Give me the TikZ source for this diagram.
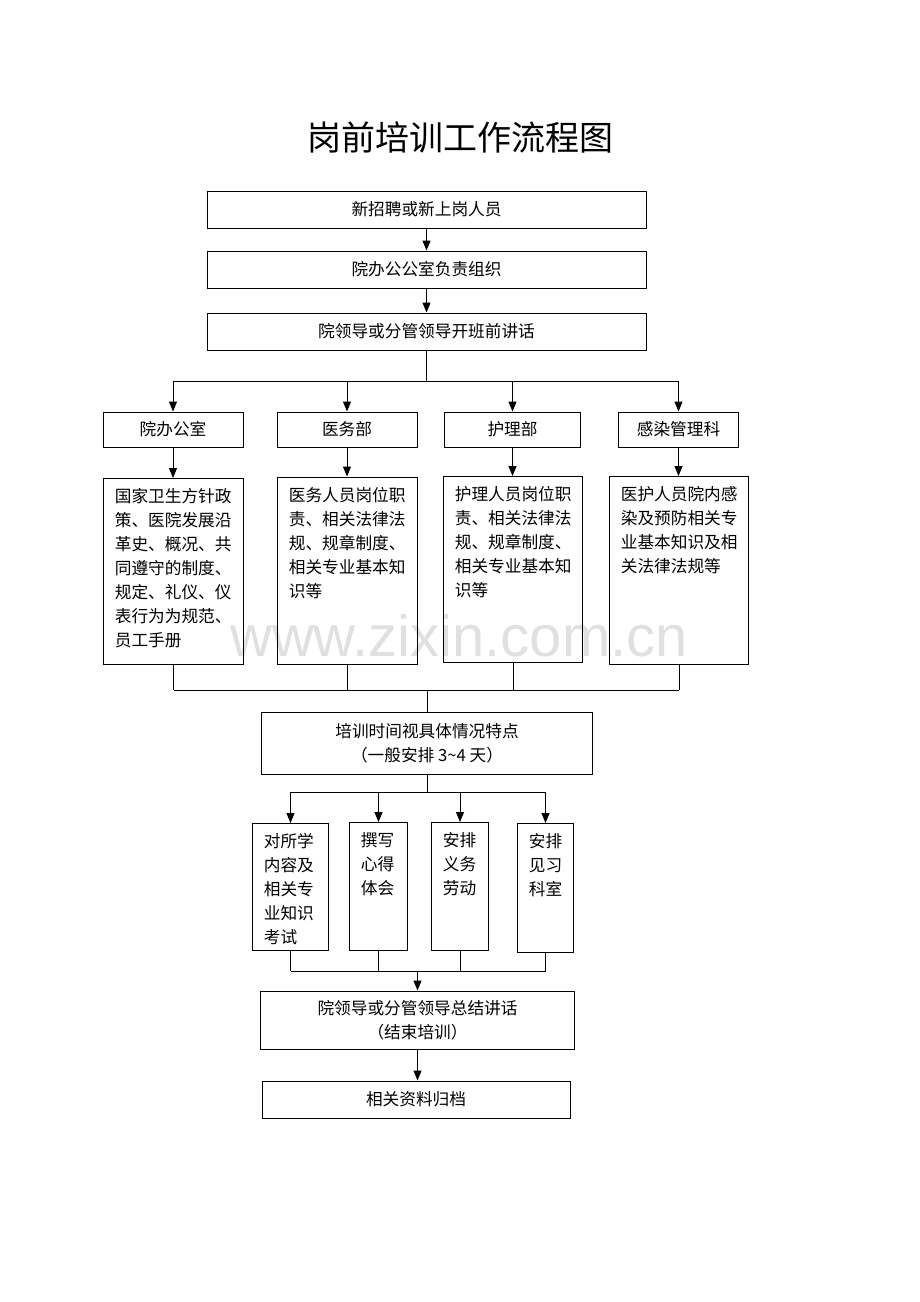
\documentclass[tikz,border=0pt]{standalone}
\usepackage{fontspec}
\IfFontExistsTF{FandolSong-Regular.otf}{\setmainfont{FandolSong-Regular.otf}}{\setmainfont{Noto Sans CJK SC}}
\newfontfamily\heiti{Noto Sans CJK SC}
\newfontfamily\wmfont{Liberation Sans}
\usepackage{tikz}
\usetikzlibrary{arrows.meta, positioning}

\newcommand{\boxtext}[3]{\parbox[t][#2][t]{#1}{#3}}

\tikzset{
  box/.style={draw, line width=0.75pt, inner sep=0pt, align=center, font=\fontsize{12.5pt}{18pt}\selectfont},
  textbox/.style={draw, line width=0.75pt, inner xsep=8.5pt, inner ysep=7.5pt, anchor=north west, font=\fontsize{12.5pt}{18pt}\selectfont},
  arr/.style={-{Triangle[length=7.5pt,width=6pt]}, line width=0.75pt},
  link/.style={line width=0.75pt}
}

\begin{document}
\begin{tikzpicture}[x=0.75pt, y=-0.75pt]
\useasboundingbox (0,0) rectangle (920,1302);
% watermark
\node[text=black!12, font=\wmfont\fontsize{43.5pt}{43.5pt}\selectfont] (mark) at (459,636) {www.zixin.com.cn};
\node (title) at (460,137) {\heiti\fontsize{25.5pt}{30pt}\selectfont 岗前培训工作流程图};
% top chain
\node[box, minimum width=329.25pt, minimum height=27.75pt] (new) at (426.5,209.5) {新招聘或新上岗人员};
\node[box, minimum width=329.25pt, minimum height=27.75pt] (office) at (426.5,269.5) {院办公公室负责组织};
\node[box, minimum width=329.25pt, minimum height=27.75pt] (talk) at (426.5,331.5) {院领导或分管领导开班前讲话};
\draw[arr] (new) -- (office);
\draw[arr] (office) -- (talk);
% departments
\node[box, minimum width=105pt, minimum height=26.25pt] (hdA) at (173,429.5) {院办公室};
\node[box, minimum width=105pt, minimum height=26.25pt] (hdB) at (347,429.5) {医务部};
\node[box, minimum width=102pt, minimum height=26.25pt] (hdC) at (512.5,429.5) {护理部};
\node[box, minimum width=90pt, minimum height=26.25pt] (hdD) at (678.5,429.5) {感染管理科};
\node[textbox] (dtA) at (103,478) {\boxtext{88pt}{124.5pt}{国家卫生方针政\\策、医院发展沿\\革史、概况、共\\同遵守的制度、\\规定、礼仪、仪\\表行为为规范、\\员工手册}};
\node[textbox] (dtB) at (277,476.5) {\boxtext{88pt}{125.6pt}{医务人员岗位职\\责、相关法律法\\规、规章制度、\\相关专业基本知\\识等}};
\node[textbox] (dtC) at (443,476) {\boxtext{87.5pt}{124.5pt}{护理人员岗位职\\责、相关法律法\\规、规章制度、\\相关专业基本知\\识等}};
\node[textbox] (dtD) at (609,476) {\boxtext{87.5pt}{126pt}{医护人员院内感\\染及预防相关专\\业基本知识及相\\关法律法规等}};
\coordinate (bus1) at (427,381);
\draw[link] (talk.south) -- (talk.south |- bus1);
\draw[link] (hdA.north |- bus1) -- (hdD.north |- bus1);
\foreach \h/\d in {hdA/dtA, hdB/dtB, hdC/dtC, hdD/dtD}{
  \draw[arr] (\h.north |- bus1) -- (\h.north);
  \draw[arr] (\h.south) -- (\h.south |- \d.north);
}
% training period
\node[box, minimum width=248.25pt, minimum height=46.5pt] (train) at (427,743) {培训时间视具体情况特点\\（一般安排 3\textasciitilde 4 天）};
\coordinate (bus2) at (427,690);
\foreach \d in {dtA, dtB, dtC, dtD}
  \draw[link] (\d.south) -- (\d.south |- bus2);
\draw[link] (dtA.south |- bus2) -- (dtD.south |- bus2);
\draw[link] (bus2) -- (bus2 |- train.north);
% tasks
\node[textbox] (smA) at (252,823) {\boxtext{40pt}{80.25pt}{对所学\\内容及\\相关专\\业知识\\考试}};
\node[textbox] (smB) at (349,822) {\boxtext{26.5pt}{81pt}{撰写\\心得\\体会}};
\node[textbox] (smC) at (431,822) {\boxtext{25.75pt}{81pt}{安排\\义务\\劳动}};
\node[textbox] (smD) at (517,823) {\boxtext{25pt}{81.75pt}{安排\\见习\\科室}};
\coordinate (bus3) at (427,792);
\draw[link] (train.south) -- (train.south |- bus3);
\draw[link] (smA.north |- bus3) -- (smD.north |- bus3);
\foreach \s in {smA, smB, smC, smD}
  \draw[arr] (\s.north |- bus3) -- (\s.north);
% closing
\node[box, minimum width=235.5pt, minimum height=43.5pt] (summary) at (417.5,1020) {院领导或分管领导总结讲话\\（结束培训）};
\node[box, minimum width=231pt, minimum height=27.75pt] (archive) at (416,1099.5) {相关资料归档};
\coordinate (bus4) at (418,971);
\foreach \s in {smA, smB, smC, smD}
  \draw[link] (\s.south) -- (\s.south |- bus4);
\draw[link] (smA.south |- bus4) -- (smD.south |- bus4);
\draw[arr] (bus4 -| summary.north) -- (summary.north);
\draw[arr] (summary.south) -- (summary.south |- archive.north);
\end{tikzpicture}
\end{document}
